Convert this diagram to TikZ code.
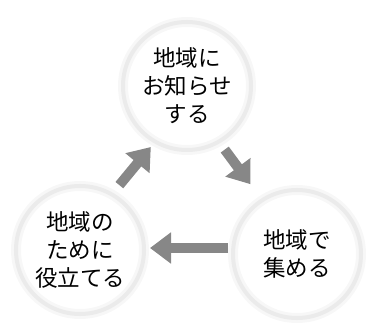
\documentclass[tikz,border=0pt]{standalone}
\usepackage{fontspec}
\newfontfamily\jp{Noto Sans CJK JP}
\usetikzlibrary{arrows.meta}
\definecolor{arrowgray}{RGB}{135,135,135}
\tikzset{every picture/.style={line width=0.75pt}}
\tikzset{
  ring/.style={circle,minimum size=128pt,inner sep=0pt,align=center,
    draw=gray!16,line width=4pt,preaction={draw=gray!6,line width=10pt},
    font=\jp\fontsize{22.5}{28}\selectfont},
  bigarrow/.style={draw=arrowgray,line width=10pt,
    -{Triangle[width=30pt,length=21pt,fill=arrowgray]}}
}

\begin{document}
\begin{tikzpicture}[x=1pt,y=-1pt]
	\useasboundingbox (0,0) rectangle (367,323);
	%Vong tron
	\node[ring] (top) at (187,86) {地域に\\お知らせ\\する};
	\node[ring] (left) at (80,250) {地域の\\ために\\役立てる};
	\node[ring] (right) at (297,254) {地域で\\集める};
	%Mui ten
	\draw[bigarrow,shorten >=5pt,shorten <=10pt] (left.60) -- (top.240);
	\draw[bigarrow,shorten >=18pt,shorten <=8pt] (top.300) -- (right.123);
	\coordinate (tail) at ([yshift=6pt]right.west);
	\draw[bigarrow,shorten >=4pt,shorten <=3pt] (tail) -- (left.east |- tail);
\end{tikzpicture}
\end{document}
